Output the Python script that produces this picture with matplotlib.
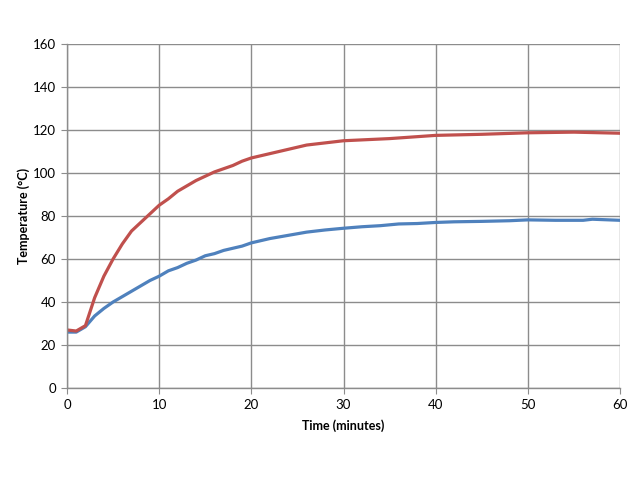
import matplotlib
matplotlib.use("Agg")
import matplotlib.pyplot as plt

red_t = [0, 1, 2, 3, 4, 5, 6, 7, 8, 9, 10, 11, 12, 13, 14, 15, 16, 17, 18, 19, 20,
         22, 24, 26, 28, 30, 35, 40, 45, 50, 55, 60]
red_v = [27, 26.5, 29, 42, 52, 60, 67, 73, 77, 81, 85, 88, 91.5, 94, 96.5, 98.5, 100.5, 102,
         103.5, 105.5, 107, 109, 111, 113, 114, 115, 116, 117.5, 118, 118.7, 119, 118.5]

blue_t = [0, 1, 2, 3, 4, 5, 6, 7, 8, 9, 10, 11, 12, 13, 14, 15, 16, 17, 18, 19, 20,
          22, 24, 26, 28, 30, 32, 34, 36, 38, 40, 42, 45, 48, 50, 53, 56, 57, 60]
blue_v = [26, 26, 28.5, 33.5, 37, 40, 42.5, 45, 47.5, 50, 52, 54.5, 56, 58, 59.5, 61.5, 62.5,
          64, 65, 66, 67.5, 69.5, 71, 72.5, 73.5, 74.3, 75, 75.5, 76.3, 76.5, 77, 77.3, 77.5,
          77.8, 78.2, 78, 78, 78.5, 78]

x_ticks = [0, 10, 20, 30, 40, 50, 60]
y_ticks = [0, 20, 40, 60, 80, 100, 120, 140, 160]

plt.rcParams['font.family'] = ['Lato', 'DejaVu Sans']

fig = plt.figure(figsize=(6.4, 4.8), dpi=100)
ax = fig.add_axes([67/640, 92/480, 553/640, 344/480])

ax.plot(blue_t, blue_v, color='#4F81BD', lw=2.3, solid_capstyle='round')
ax.plot(red_t, red_v, color='#C0504D', lw=2.3, solid_capstyle='round')

ax.set_xlim(0, 60)
ax.set_ylim(0, 160)
ax.set_xticks(x_ticks)
ax.set_yticks(y_ticks)
ax.grid(True, color='#8C8C8C', lw=1)
ax.set_axisbelow(True)
for s in ['top', 'right']:
    ax.spines[s].set_visible(False)
for s in ['left', 'bottom']:
    ax.spines[s].set_color('#8C8C8C')
    ax.spines[s].set_linewidth(1)
ax.tick_params(direction='out', length=4, color='#8C8C8C', labelsize=9.5, pad=4)
ax.set_xlabel('Time (minutes)', fontsize=9, fontweight='bold', labelpad=6)
ax.set_ylabel('Temperature (°C)', fontsize=9, fontweight='bold', labelpad=2)

fig.savefig('out.png', dpi=100)
